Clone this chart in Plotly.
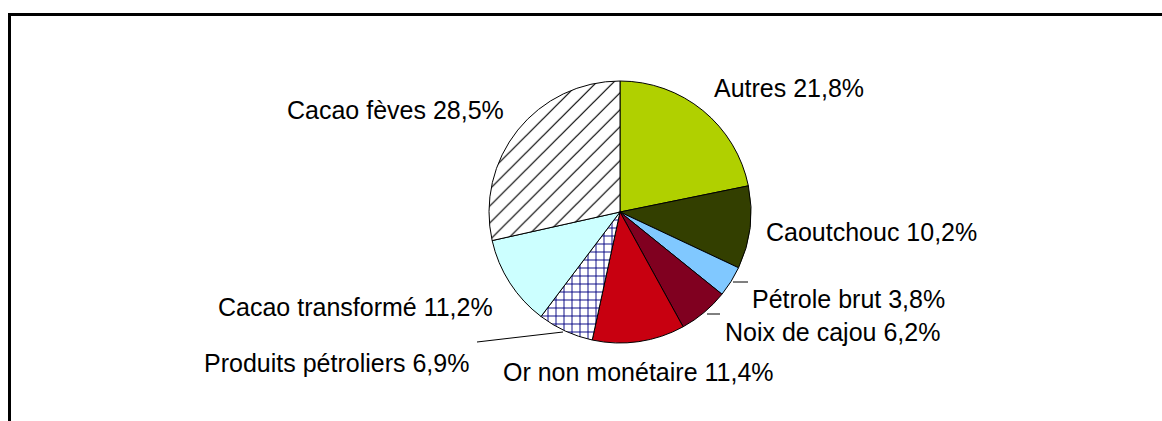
import plotly.graph_objects as go

labels = ["Autres", "Caoutchouc", "Pétrole brut", "Noix de cajou",
          "Or non monétaire", "Produits pétroliers", "Cacao transformé", "Cacao fèves"]
values = [21.8, 10.2, 3.8, 6.2, 11.4, 6.9, 11.2, 28.5]
colors = ["#b0d000", "#333f00", "#80c8ff", "#800020", "#c80010", "#ffffff", "#ccffff", "#ffffff"]
pattern_shapes = ["", "", "", "", "", "+", "", "/"]
pattern_fg = ["black", "black", "black", "black", "black", "#000080", "black", "black"]

# label anchor centres in pixels (x, y from top)
label_pos = [(789, 88), (871, 232), (848, 299), (832, 332),
             (638, 372), (336, 363), (355, 307), (395, 110)]

W, H = 1162, 421

fig = go.Figure()
fig.add_trace(go.Pie(
    labels=labels,
    values=values,
    sort=False,
    direction="clockwise",
    rotation=0,
    textinfo="none",
    hoverinfo="skip",
    showlegend=False,
    marker=dict(
        colors=colors,
        line=dict(color="black", width=1),
        pattern=dict(shape=pattern_shapes, fgcolor=pattern_fg, bgcolor=colors,
                     size=[10, 10, 10, 10, 10, 8, 10, 12],
                     solidity=[0.1, 0.1, 0.1, 0.1, 0.1, 0.22, 0.1, 0.1]),
    ),
    domain=dict(x=[(620 - 131) / W, (620 + 131) / W],
                y=[1 - (212 + 131) / H, 1 - (212 - 131) / H]),
))

for lab, val, (px, py) in zip(labels, values, label_pos):
    fig.add_annotation(
        x=px / W, y=1 - py / H, xref="paper", yref="paper",
        text=f"{lab} {str(val).replace('.', ',')}%",
        showarrow=False, xanchor="center", yanchor="middle",
        font=dict(family="Liberation Sans, Arial", size=25, color="black"),
    )

# leader lines
leaders = [((733, 282), (748, 282)), ((707, 314), (720, 314)), ((477, 342), (563, 332))]
for (x0, y0), (x1, y1) in leaders:
    fig.add_shape(type="line", xref="paper", yref="paper",
                  x0=x0 / W, y0=1 - y0 / H, x1=x1 / W, y1=1 - y1 / H,
                  line=dict(color="black", width=1))

# frame
fig.add_shape(type="rect", xref="paper", yref="paper",
              x0=9.5 / W, y0=-0.05, x1=1.05, y1=1 - 14.5 / H,
              line=dict(color="black", width=3), fillcolor="rgba(0,0,0,0)")

fig.update_layout(
    width=W, height=H,
    margin=dict(l=0, r=0, t=0, b=0),
    paper_bgcolor="white", plot_bgcolor="white",
)

fig.write_html("out.html", config={"displayModeBar": False},
               post_script="document.body.style.margin='0';document.body.style.overflow='hidden';")
